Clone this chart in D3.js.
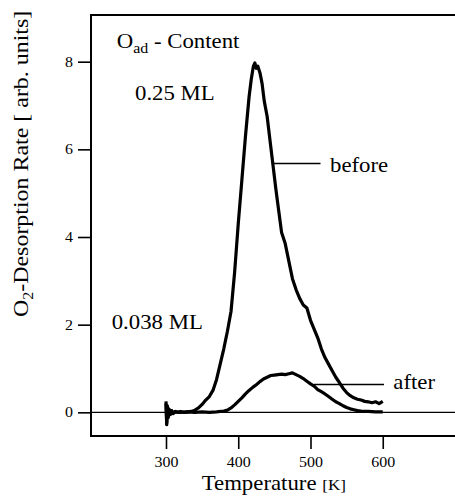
<!DOCTYPE html>
<html><head><meta charset="utf-8">
<script src="https://cdn.jsdelivr.net/npm/d3@7"></script>
<style>
html,body{margin:0;padding:0;background:#fff;}
svg{display:block;}
text{font-family:"Liberation Serif","Times New Roman",serif;fill:#000;}
</style></head><body>
<svg id="chart" width="455" height="496"></svg>
<script>
// ---- data ----
const beforeT = [300,301,302,303,304,306,308,310,313,316,320,325,330,335,340,345,350,355,360,365,370,375,380,385,390,395,400,405,410,415,418,421,423,425,427,430,433,436,440,444,448,452,456,460,465,470,475,480,485,490,495,500,505,510,515,520,525,530,535,540,545,550,555,560,565,570,575,580,585,590,595,600];
const beforeV = [0.25,-0.28,0.15,-0.1,0.08,-0.05,0.04,-0.03,0.02,0.0,0.02,0.0,0.01,0.02,0.05,0.1,0.18,0.28,0.36,0.5,0.75,1.1,1.45,1.85,2.3,3.2,4.3,5.3,6.3,7.2,7.6,7.9,7.97,7.85,7.9,7.75,7.5,7.1,6.75,6.2,5.65,5.1,4.6,4.1,3.85,3.45,3.05,2.8,2.6,2.45,2.38,2.1,1.9,1.7,1.45,1.25,1.1,0.95,0.8,0.68,0.55,0.45,0.38,0.33,0.3,0.28,0.25,0.24,0.22,0.24,0.2,0.25];
const afterT = [300,301,302,303,305,308,312,320,330,340,350,360,370,380,385,390,395,400,405,410,415,420,425,430,435,440,445,450,455,460,465,470,475,480,485,490,495,500,505,510,515,520,525,530,535,540,545,550,555,560,565,570,580,590,600];
const afterV = [0.2,-0.25,0.1,-0.12,0.05,-0.03,0.01,0.0,0.01,0.0,0.01,0.0,0.01,0.03,0.05,0.1,0.17,0.25,0.33,0.42,0.5,0.57,0.63,0.7,0.76,0.8,0.84,0.85,0.86,0.87,0.86,0.88,0.9,0.86,0.82,0.77,0.71,0.65,0.6,0.52,0.47,0.42,0.36,0.3,0.24,0.2,0.15,0.11,0.08,0.06,0.04,0.03,0.02,0.01,0.01];
const xTicks = [300,400,500,600];
const yTicks = [0,2,4,6,8];
const xDomain = [196.2, 700];
const yDomain = [-0.54, 9.065];

// ---- layout ----
const svg = d3.select("#chart");
const L = 91, T = 15, R = 455, B = 436;
const SX = 1.14;
const x = d3.scaleLinear().domain(xDomain).range([L, R]);
const y = d3.scaleLinear().domain(yDomain).range([B, T]);

// frame
svg.append("path").attr("d", `M${R+5},${T}H${L}V${B}H${R+5}`)
  .attr("fill","none").attr("stroke","#000").attr("stroke-width",2);

// zero line
svg.append("line").attr("x1",L).attr("x2",R).attr("y1",y(0)).attr("y2",y(0))
  .attr("stroke","#000").attr("stroke-width",1.4);

function stretchTexts(sel){
  sel.each(function(){
    const t = d3.select(this);
    const tx = +t.attr("x") || 0, ty = +t.attr("y") || 0;
    t.attr("x",0).attr("y",0).attr("transform",`translate(${tx},${ty}) scale(${SX},1)`);
  });
}

// y axis
const gy = svg.append("g").attr("transform",`translate(${L},0)`)
  .call(d3.axisLeft(y).tickValues(yTicks).tickSize(13).tickPadding(5).tickFormat(d3.format("d")));
gy.select(".domain").remove();
gy.selectAll(".tick line").attr("stroke","#000").attr("stroke-width",1.6);
gy.selectAll(".tick text").attr("font-size",14).attr("font-family","Liberation Serif").call(stretchTexts);

// x axis
const gx = svg.append("g").attr("transform",`translate(0,${B})`)
  .call(d3.axisBottom(x).tickValues(xTicks).tickSize(13).tickPadding(8).tickFormat(d3.format("d")));
gx.select(".domain").remove();
gx.selectAll(".tick line").attr("stroke","#000").attr("stroke-width",1.6);
gx.selectAll(".tick text").attr("font-size",14).attr("font-family","Liberation Serif").call(stretchTexts);

// curves
const line = d3.line().x(d=>x(d[0])).y(d=>y(d[1]));
svg.append("path").datum(beforeT.map((t,i)=>[t,beforeV[i]]))
  .attr("d",line).attr("fill","none").attr("stroke","#000").attr("stroke-width",3.2).attr("stroke-linejoin","round");
svg.append("path").datum(afterT.map((t,i)=>[t,afterV[i]]))
  .attr("d",line).attr("fill","none").attr("stroke","#000").attr("stroke-width",3.2).attr("stroke-linejoin","round");

// helper for stretched text
function label(px, py, size, anchor){
  const g = svg.append("g").attr("transform",`translate(${px},${py}) scale(${SX},1)`);
  return g.append("text").attr("font-size",size).attr("text-anchor",anchor||"start");
}

// annotations
const t1 = label(116.7, 48.3, 20);
t1.append("tspan").text("O");
t1.append("tspan").attr("font-size",14).attr("dy",5).text("ad");
t1.append("tspan").attr("dy",-5).text(" - Content");

label(135, 100, 20).text("0.25 ML");
label(111.7, 329, 20).text("0.038 ML");

// before / after leader lines
svg.append("line").attr("x1",273).attr("x2",320.5).attr("y1",163.5).attr("y2",163.5).attr("stroke","#000").attr("stroke-width",1.4);
label(330, 171.7, 20).text("before");
svg.append("line").attr("x1",314).attr("x2",384).attr("y1",384.5).attr("y2",384.5).attr("stroke","#000").attr("stroke-width",1.4);
label(393.3, 388.5, 20).text("after");

// x title
const xt = label(201.7, 490, 20);
xt.append("tspan").text("Temperature ");
xt.append("tspan").attr("font-size",15).text("[K]");

// y title
const gyt = svg.append("g").attr("transform",`translate(28,317) rotate(-90) scale(${SX},1)`);
const yt = gyt.append("text").attr("font-size",21);
yt.append("tspan").text("O");
yt.append("tspan").attr("font-size",14).attr("dy",5).text("2");
yt.append("tspan").attr("dy",-5).text("-Desorption Rate [ arb. units]");
</script>
</body></html>
